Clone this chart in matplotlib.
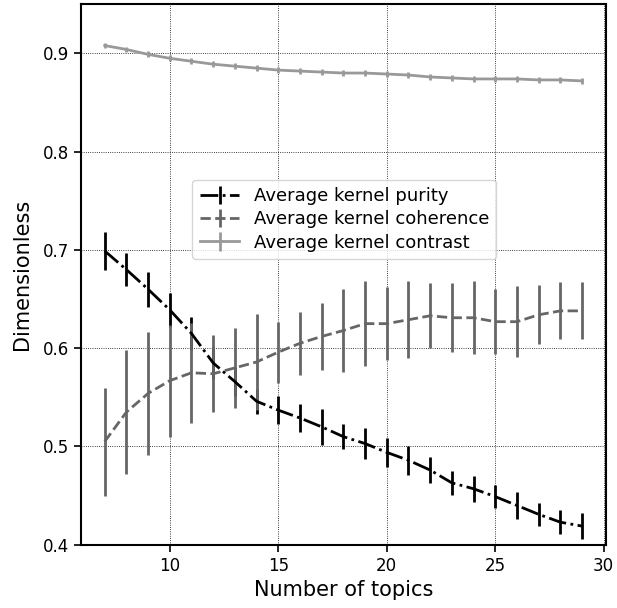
import matplotlib

matplotlib.use("Agg")
import matplotlib.pyplot as plt

topics = list(range(7, 30))

purity = [0.699, 0.680, 0.660, 0.639, 0.615, 0.585, 0.566, 0.546, 0.537, 0.529,
          0.520, 0.510, 0.503, 0.494, 0.486, 0.476, 0.463, 0.457, 0.449, 0.440,
          0.431, 0.423, 0.419]
purity_err = [0.019, 0.017, 0.018, 0.017, 0.017, 0.016, 0.015, 0.013, 0.014, 0.014,
              0.018, 0.013, 0.016, 0.015, 0.015, 0.013, 0.012, 0.013, 0.012, 0.014,
              0.012, 0.012, 0.013]

coherence = [0.505, 0.535, 0.554, 0.567, 0.575, 0.574, 0.580, 0.586, 0.596, 0.605,
             0.612, 0.618, 0.625, 0.625, 0.629, 0.633, 0.631, 0.631, 0.627, 0.627,
             0.634, 0.638, 0.638]
coherence_err = [0.055, 0.063, 0.063, 0.057, 0.051, 0.039, 0.041, 0.049, 0.031, 0.032,
                 0.034, 0.042, 0.043, 0.037, 0.039, 0.033, 0.035, 0.037, 0.033, 0.036,
                 0.030, 0.029, 0.029]

contrast = [0.908, 0.904, 0.899, 0.895, 0.892, 0.889, 0.887, 0.885, 0.883, 0.882,
            0.881, 0.880, 0.880, 0.879, 0.878, 0.876, 0.875, 0.874, 0.874, 0.874,
            0.873, 0.873, 0.872]
contrast_err = [0.003] * len(topics)

fig = plt.figure(figsize=(6.17, 6.08), dpi=100)
ax = fig.add_axes([0.131, 0.104, 0.851, 0.889])

ax.errorbar(topics, purity, yerr=purity_err, color="black", linestyle="-.",
            linewidth=2, elinewidth=2, label="Average kernel purity")
ax.errorbar(topics, coherence, yerr=coherence_err, color="#666666", linestyle="--",
            linewidth=2, elinewidth=2, label="Average kernel coherence")
ax.errorbar(topics, contrast, yerr=contrast_err, color="#999999", linestyle="-",
            linewidth=2, elinewidth=2, label="Average kernel contrast")

ax.set_ylim(0.4, 0.95)
ax.set_xticks([10, 15, 20, 25, 30])
ax.set_yticks([0.4, 0.5, 0.6, 0.7, 0.8, 0.9])
ax.tick_params(labelsize=12, width=1.2, length=5)
ax.set_xlabel("Number of topics", fontsize=15)
ax.set_ylabel("Dimensionless", fontsize=15, labelpad=8)
ax.grid(True, color="black", linestyle=":", linewidth=0.6)
for spine in ax.spines.values():
    spine.set_linewidth(1.5)

ax.legend(fontsize=13, loc="center", bbox_to_anchor=(0.502, 0.602),
          handlelength=2.2, labelspacing=0.3)

fig.savefig("out.png", dpi=100)
